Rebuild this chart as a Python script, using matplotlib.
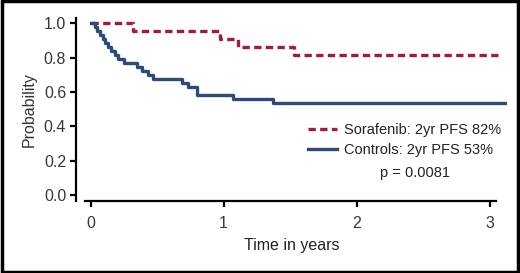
import matplotlib
matplotlib.use("Agg")
import matplotlib.pyplot as plt
from matplotlib.patches import Rectangle
from matplotlib.lines import Line2D

plt.rcParams['font.family'] = ['Liberation Sans', 'DejaVu Sans']

# Kaplan-Meier step data (time in years, probability)
soraf_t = [0.0, 0.32, 0.975, 1.105, 1.53, 3.07]
soraf_p = [1.0, 0.955, 0.91, 0.864, 0.814, 0.814]

ctrl_t = [0.0, 0.03, 0.05, 0.07, 0.09, 0.11, 0.13, 0.155, 0.18, 0.205, 0.25,
          0.35, 0.39, 0.43, 0.47, 0.69, 0.73, 0.80, 1.07, 1.37, 3.12]
ctrl_p = [1.0, 0.977, 0.953, 0.930, 0.907, 0.884, 0.860, 0.837, 0.814, 0.790, 0.767,
          0.744, 0.721, 0.698, 0.674, 0.651, 0.628, 0.582, 0.558, 0.533, 0.533]

x_ticks = [0, 1, 2, 3]
y_ticks = [0.0, 0.2, 0.4, 0.6, 0.8, 1.0]
soraf_label = "Sorafenib: 2yr PFS 82%"
ctrl_label = "Controls: 2yr PFS 53%"
p_text = "p = 0.0081"

red = "#a31b3c"
blue = "#2d4a7a"

fig = plt.figure(figsize=(5.2, 2.73), dpi=100)
ax = fig.add_axes([0.146, 0.264, 0.829, 0.670])

ax.step(ctrl_t, ctrl_p, where='post', color=blue, lw=2.4, zorder=3)
ax.step(soraf_t, soraf_p, where='post', color=red, lw=2.4, ls=(0, (2.2, 1.3)), zorder=2)

ax.set_xlim(-0.11, 3.13)
ax.set_ylim(-0.035, 1.03)
ax.set_xticks(x_ticks)
ax.set_xticklabels([str(v) for v in x_ticks])
ax.set_yticks(y_ticks)
ax.set_yticklabels([f"{v:.1f}" for v in y_ticks])

for s in ['top', 'right']:
    ax.spines[s].set_visible(False)
for s in ['left', 'bottom']:
    ax.spines[s].set_linewidth(1.6)
    ax.spines[s].set_color('black')
ax.spines['bottom'].set_bounds(-0.04, 3.05)
ax.tick_params(axis='both', direction='out', length=4, width=1.6, colors='black',
               labelcolor='#383838', labelsize=11.5)
ax.tick_params(axis='x', pad=7)
ax.tick_params(axis='y', pad=3)

ax.set_ylabel("Probability", fontsize=11.5, color='#333333', labelpad=5)
ax.set_xlabel("Time in years", fontsize=11.5, color='#222222', labelpad=5)

handles = [Line2D([0], [0], color=red, lw=2.4, ls=(0, (2.2, 1.3))),
           Line2D([0], [0], color=blue, lw=2.4)]
leg = fig.legend(handles, [soraf_label, ctrl_label], loc='upper left',
                 bbox_to_anchor=(302 / 520, 1 - 117 / 273), frameon=False,
                 fontsize=10.5, handlelength=2.0, handletextpad=0.5,
                 labelspacing=0.45, borderaxespad=0)
for t in leg.get_texts():
    t.set_color('#222222')
fig.text(415 / 520, 1 - 173 / 273, p_text, fontsize=10.5, color='#222222',
         ha='center', va='center')

fig.patches.append(Rectangle((0.003, 0.005), 0.994, 0.99, transform=fig.transFigure,
                             fill=False, edgecolor='black', lw=2.5))

fig.savefig("out.png", dpi=100)
